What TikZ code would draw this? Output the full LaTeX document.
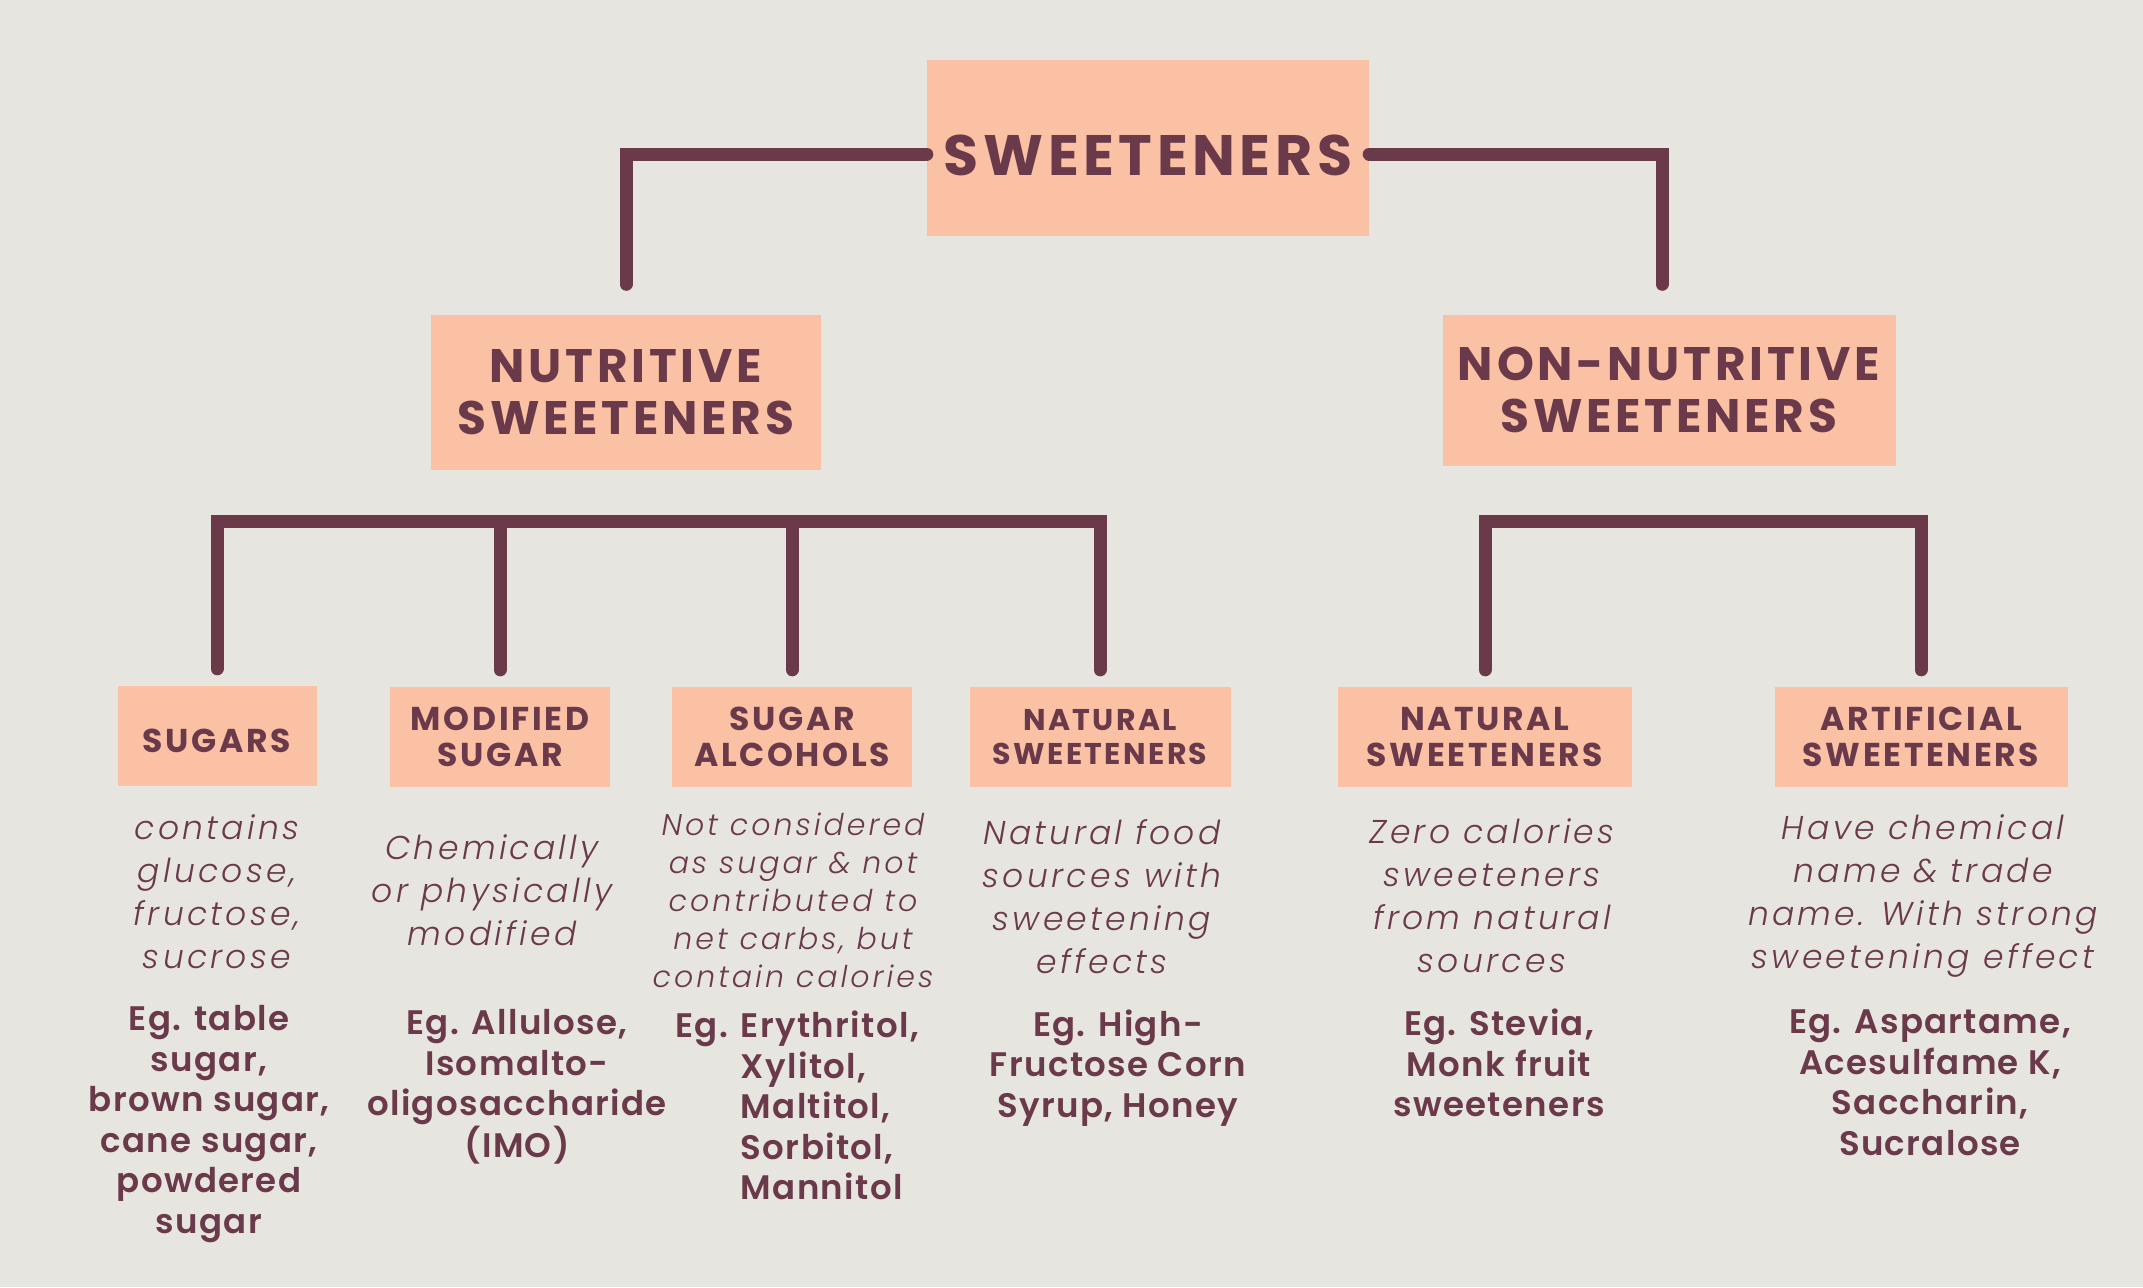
\documentclass[tikz,border=0pt]{standalone}
\usepackage{fontspec}
\setmainfont{Poppins}
\newfontfamily\headfont{Poppins}[LetterSpace=8]
\IfFontExistsTF{Poppins SemiBold}{\newfontfamily\egfont{Poppins SemiBold}[LetterSpace=4]}{\newfontfamily\egfont{Poppins}[FakeBold=1.2,LetterSpace=4]}
\IfFontExistsTF{Poppins Light Italic}{\newfontfamily\descfont{Poppins Light Italic}[LetterSpace=10]}{\newfontfamily\descfont{Poppins}[FakeSlant=0.2,LetterSpace=10]}
\usepackage{tikz}
\usetikzlibrary{positioning,calc}

\definecolor{bgcream}{HTML}{E7E5E0}
\definecolor{peach}{HTML}{FAC1A4}
\definecolor{plum}{HTML}{6A3A4B}

\tikzset{
  box/.style={fill=peach, text=plum, align=center, inner sep=0pt},
  topbox/.style={box, font=\headfont\bfseries\fontsize{57}{68}\selectfont},
  midbox/.style={box, font=\headfont\bfseries\fontsize{47}{52}\selectfont},
  leafbox/.style={box, minimum height=100pt, font=\headfont\bfseries\fontsize{33}{36}\selectfont},
  desc/.style={text=plum, align=center, font=\descfont\fontsize{33}{43}\selectfont},
  eg/.style={text=plum, align=center, font=\egfont\fontsize{34}{40.5}\selectfont},
  link/.style={draw=plum, line width=13pt, line cap=round}
}

\begin{document}
\begin{tikzpicture}[x=1pt,y=-1pt]
\fill[bgcream] (0,0) rectangle (2143,1287);

\node[topbox, minimum width=442pt, minimum height=175pt] (sweet) at (1148,148) {\raisebox{-7pt}[\height][0pt]{SWEETENERS}};
\node[midbox, minimum width=390pt, minimum height=155pt] (nutri) at (626,392) {NUTRITIVE\\SWEETENERS};
\node[midbox, minimum width=453pt, minimum height=151pt] (nonnutri) at (1669,390) {NON-NUTRITIVE\\SWEETENERS};

\node[leafbox, minimum width=199pt] (sugars) at (217,736) {\raisebox{-5pt}[\height][0pt]{SUGARS}};
\node[leafbox, minimum width=220pt] (modsugar) at (500,737) {MODIFIED\\SUGAR};
\node[leafbox, minimum width=240pt] (alcohols) at (792,737) {SUGAR\\ALCOHOLS};
\node[leafbox, minimum width=261pt, font=\headfont\bfseries\fontsize{30}{34}\selectfont] (natnutri) at (1100,737) {NATURAL\\SWEETENERS};
\node[leafbox, minimum width=294pt] (natnon) at (1485,737) {NATURAL\\SWEETENERS};
\node[leafbox, minimum width=293pt] (artificial) at (1921,737) {ARTIFICIAL\\SWEETENERS};

\draw[link] ([yshift=-6pt]sweet.west) -| ([yshift=30pt]nutri.north);
\draw[link] ([yshift=-6pt]sweet.east) -| ([xshift=-7pt,yshift=30pt]nonnutri.north);
\draw[link] ([yshift=17pt]sugars.north) |- ([yshift=165pt]natnutri.north) -- ([yshift=17pt]natnutri.north);
\draw[link] ([yshift=17pt]modsugar.north) -- ([yshift=165pt]modsugar.north);
\draw[link] ([yshift=17pt]alcohols.north) -- ([yshift=165pt]alcohols.north);
\draw[link] ([yshift=17pt]natnon.north) |- ([yshift=165pt]artificial.north) -- ([yshift=17pt]artificial.north);

\node[desc] (sugarsdesc) at (217,892) {contains\\glucose,\\fructose,\\sucrose};
\node[desc] (moddesc) at (492,890) {Chemically\\or physically\\modified};
\node[desc, font=\descfont\fontsize{30}{38}\selectfont] (alcdesc) at (793,900) {Not considered\\as sugar \& not\\contributed to\\net carbs, but\\contain calories};
\node[desc] (natnutridesc) at (1102,897) {Natural food\\sources with\\sweetening\\effects};
\node[desc] (natnondesc) at (1492,896) {Zero calories\\sweeteners\\from natural\\sources};
\node[desc] (artdesc) at (1923,896) {Have chemical\\name \& trade\\name. With strong\\sweetening effect};

\node[eg] (sugarseg) at (209,1124) {Eg. table\\sugar,\\brown sugar,\\cane sugar,\\powdered\\sugar};
\node[eg] (modeg) at (517,1087) {Eg. Allulose,\\Isomalto-\\oligosaccharide\\(IMO)};
\node[eg, anchor=north west, align=left] (alceg) at (672,1006) {Eg. \begin{tabular}[t]{@{}l@{}}Erythritol,\\Xylitol,\\Maltitol,\\Sorbitol,\\Mannitol\end{tabular}};
\node[eg] (natnutrieg) at (1118,1068) {Eg. High-\\Fructose Corn\\Syrup, Honey};
\node[eg] (natnoneg) at (1499,1063) {Eg. Stevia,\\Monk fruit\\sweeteners};
\node[eg] (arteg) at (1930,1083) {Eg. Aspartame,\\Acesulfame K,\\Saccharin,\\Sucralose};
\end{tikzpicture}
\end{document}
